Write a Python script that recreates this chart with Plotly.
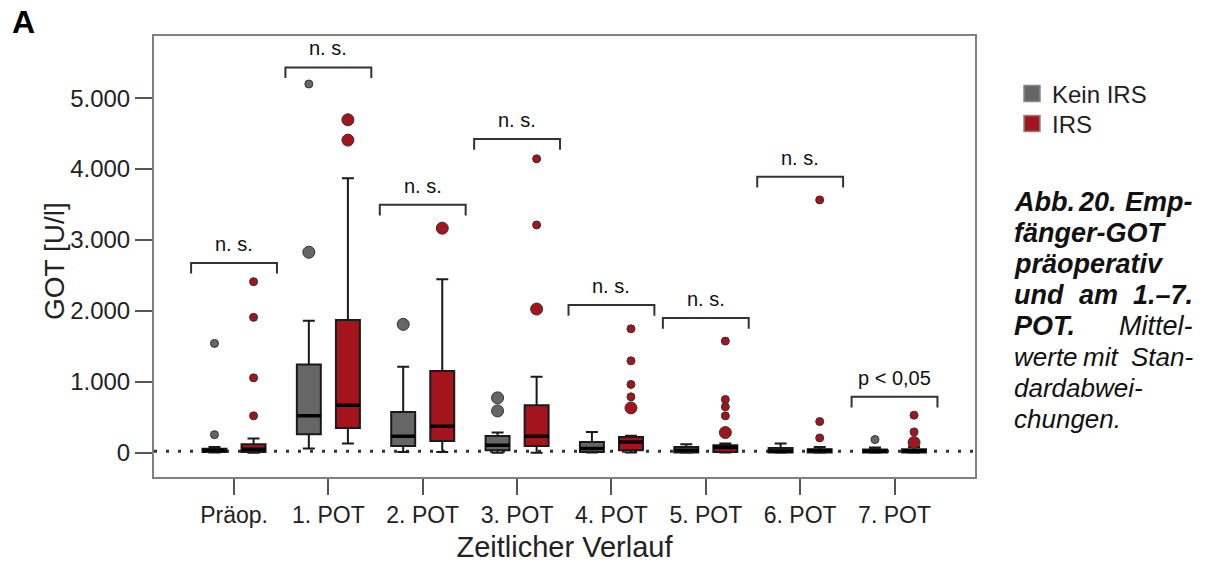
import plotly.graph_objects as go

# ---------------- data ----------------
categories = ["Präop.", "1. POT", "2. POT", "3. POT", "4. POT", "5. POT", "6. POT", "7. POT"]
y_tick_vals = [0, 1000, 2000, 3000, 4000, 5000]
y_tick_text = ["0", "1.000", "2.000", "3.000", "4.000", "5.000"]

kein_lower = [5, 59, 11, 0, 5, 0, 0, 0]
kein_q1 = [10, 261, 96, 35, 10, 5, 5, 3]
kein_median = [30, 520, 233, 106, 59, 35, 25, 20]
kein_q3 = [55, 1245, 576, 237, 152, 82, 66, 45]
kein_upper = [80, 1861, 1211, 285, 294, 120, 130, 73]
kein_outliers = [[], [2827], [1810], [590, 774], [], [], [], []]
kein_extremes = [[255, 1542], [5199], [], [], [], [], [], [186]]

irs_lower = [0, 130, 11, 0, 5, 5, 0, 0]
irs_q1 = [10, 350, 167, 96, 35, 11, 5, 5]
irs_median = [49, 671, 374, 233, 152, 73, 30, 25]
irs_q3 = [120, 1871, 1151, 671, 223, 106, 49, 50]
irs_upper = [200, 3872, 2446, 1070, 240, 130, 82, 80]
irs_outliers = [[], [4408, 4695], [3166], [2026], [632], [285], [], [144]]
irs_extremes = [[520, 1056, 1909, 2412], [], [], [3212, 4144],
                [788, 963, 1296, 1748], [520, 647, 751, 1574], [209, 440, 3565], [294, 530]]

bracket_heights = [2676, 5433, 3495, 4422, 2083, 1899, 3890, 788]
bracket_labels = ["n. s.", "n. s.", "n. s.", "n. s.", "n. s.", "n. s.", "n. s.", "p < 0,05"]
reference_value = 20

series_names = ["Kein IRS", "IRS"]

# caption lines: words (first left-aligned, last right-aligned, middle one placed between)
caption_lines = [
    (["<b><i>Abb.</i></b>", "<b><i>20.</i></b>", "<b><i>Emp-</i></b>"], 0.465),
    (["<b><i>fänger-GOT</i></b>"], None),
    (["<b><i>präoperativ</i></b>"], None),
    (["<b><i>und</i></b>", "<b><i>am</i></b>", "<b><i>1.–7.</i></b>"], 0.47),
    (["<b><i>POT.</i></b>", "<i>Mittel-</i>"], None),
    (["<i>werte</i>", "<i>mit</i>", "<i>Stan-</i>"], 0.485),
    (["<i>dardabwei-</i>"], None),
    (["<i>chungen.</i>"], None),
]

# ---------------- style / geometry ----------------
FONT = "Liberation Sans, Arial, Helvetica, sans-serif"
GREY = "#666666"
RED = "#a3141c"
OFF = 0.207
BOXW = 0.254
LEG = 150
BR_HALF = 0.455

W, H = 1206, 563
ML, MR, MT, MB = 154, 231, 36, 86
PW = W - ML - MR
PH = H - MT - MB


def px_x(px):
    return (px - ML) / PW


def px_y(py):
    return (H - MB - py) / PH


fig = go.Figure()

groups = [
    (series_names[0], GREY, -OFF, kein_lower, kein_q1, kein_median, kein_q3, kein_upper, kein_outliers, kein_extremes),
    (series_names[1], RED, OFF, irs_lower, irs_q1, irs_median, irs_q3, irs_upper, irs_outliers, irs_extremes),
]

idx = list(range(len(categories)))

for name, color, off, lo, q1, med, q3, up, outs, exts in groups:
    pos = [i + off for i in idx]
    fig.add_trace(go.Box(
        x=pos, q1=q1, median=med, q3=q3, lowerfence=lo, upperfence=up,
        width=BOXW, whiskerwidth=0.5, fillcolor=color,
        line=dict(color="#1a1a1a", width=2), boxpoints=False,
        showlegend=False, hoverinfo="skip", name=name,
    ))
    # thick median line
    fig.add_trace(go.Box(
        x=pos, q1=med, median=med, q3=med, lowerfence=med, upperfence=med,
        width=BOXW, whiskerwidth=0, fillcolor="rgba(0,0,0,0)",
        line=dict(color="black", width=3.5), boxpoints=False,
        showlegend=False, hoverinfo="skip",
    ))
    ox, oy = [], []
    for i, vals in zip(idx, outs):
        for v in vals:
            ox.append(i + off)
            oy.append(v)
    fig.add_trace(go.Scatter(
        x=ox, y=oy, mode="markers", showlegend=False, hoverinfo="skip",
        marker=dict(symbol="circle", size=12, color=color, line=dict(color="#333333", width=1)),
    ))
    ex, ey = [], []
    for i, vals in zip(idx, exts):
        for v in vals:
            ex.append(i + off)
            ey.append(v)
    fig.add_trace(go.Scatter(
        x=ex, y=ey, mode="markers", showlegend=False, hoverinfo="skip",
        marker=dict(symbol="circle", size=8, color=color, line=dict(color="#333333", width=1)),
    ))

# legend proxies (one legend box per entry so that the spacing can follow the reference)
for (name, color, *_), leg in zip(groups, ["legend", "legend2"]):
    fig.add_trace(go.Scatter(
        x=[None], y=[None], mode="markers", name=name, legend=leg,
        marker=dict(symbol="square", size=22, color=color, line=dict(color="#888888", width=1.5)),
    ))

# significance brackets
bx, by = [], []
for i, h in zip(idx, bracket_heights):
    bx += [i - BR_HALF, i - BR_HALF, i + BR_HALF, i + BR_HALF, None]
    by += [h - LEG, h, h, h - LEG, None]
fig.add_trace(go.Scatter(x=bx, y=by, mode="lines", line=dict(color="#333333", width=2),
                         showlegend=False, hoverinfo="skip"))

annotations = []
for i, h, lab in zip(idx, bracket_heights, bracket_labels):
    annotations.append(dict(x=i, y=h, xref="x", yref="y", text=lab, showarrow=False,
                            yanchor="bottom", yshift=6,
                            font=dict(family=FONT, size=20, color="#111111")))

# panel letter
annotations.append(dict(x=px_x(23), y=px_y(22), xref="paper", yref="paper",
                        text="<b>A</b>", showarrow=False, xanchor="center", yanchor="middle",
                        font=dict(family=FONT, size=32, color="black")))

# y axis title (placed close to the tick labels as in the reference)
annotations.append(dict(x=px_x(54), y=px_y(261), xref="paper", yref="paper",
                        text="GOT [U/l]", textangle=-90, showarrow=False,
                        xanchor="center", yanchor="middle",
                        font=dict(family=FONT, size=28, color="#222222")))

# caption
cap_left = px_x(1012)
cap_right = px_x(1195)
cap_y0 = 202
cap_step = 31
for k, (words, mid) in enumerate(caption_lines):
    yp = px_y(cap_y0 + k * cap_step)
    fs = 27 if words[0].startswith("<b>") else 26
    cf = dict(family=FONT, size=fs, color="#111111")
    annotations.append(dict(x=cap_left, y=yp, xref="paper", yref="paper", text=words[0],
                            showarrow=False, xanchor="left", yanchor="middle", font=cf))
    if len(words) > 1:
        annotations.append(dict(x=cap_right, y=yp, xref="paper", yref="paper", text=words[-1],
                                showarrow=False, xanchor="right", yanchor="middle", font=cf))
    if len(words) > 2:
        annotations.append(dict(x=cap_left + (cap_right - cap_left) * mid, y=yp,
                                xref="paper", yref="paper", text=words[1],
                                showarrow=False, xanchor="center", yanchor="middle", font=cf))

legend_style = dict(xanchor="left", yanchor="middle",
                    font=dict(family=FONT, size=24, color="#222222"),
                    itemsizing="trace", bgcolor="rgba(0,0,0,0)")

fig.update_layout(
    width=W, height=H,
    margin=dict(l=ML, r=MR, t=MT, b=MB, autoexpand=False),
    paper_bgcolor="white", plot_bgcolor="white",
    font=dict(family=FONT, color="#222222"),
    boxmode="overlay",
    annotations=annotations,
    shapes=[dict(type="line", xref="paper", yref="y", x0=0, x1=1,
                 y0=reference_value, y1=reference_value, layer="below",
                 line=dict(color="#333333", width=3, dash="3px,9px"))],
    legend=dict(x=px_x(1012), y=px_y(94), **legend_style),
    legend2=dict(x=px_x(1012), y=px_y(124), **legend_style),
    xaxis=dict(range=[-0.848, 7.853], tickvals=idx, ticktext=categories,
               showgrid=False, zeroline=False, automargin=False,
               showline=True, linecolor="#808080", linewidth=2, mirror=True,
               ticks="outside", ticklen=16, tickwidth=1.5, tickcolor="#555555",
               tickfont=dict(family=FONT, size=23, color="#222222"),
               title=dict(text="Zeitlicher Verlauf", font=dict(family=FONT, size=29, color="#222222"))),
    yaxis=dict(range=[-342, 5876], tickvals=y_tick_vals, ticktext=y_tick_text,
               showgrid=False, zeroline=False, automargin=False,
               showline=True, linecolor="#808080", linewidth=2, mirror=True,
               ticks="outside", ticklen=17, tickwidth=2, tickcolor="#555555",
               tickfont=dict(family=FONT, size=24, color="#222222")),
)

fig.write_html("out.html", config={"displayModeBar": False},
               post_script="document.body.style.margin='0px';")
